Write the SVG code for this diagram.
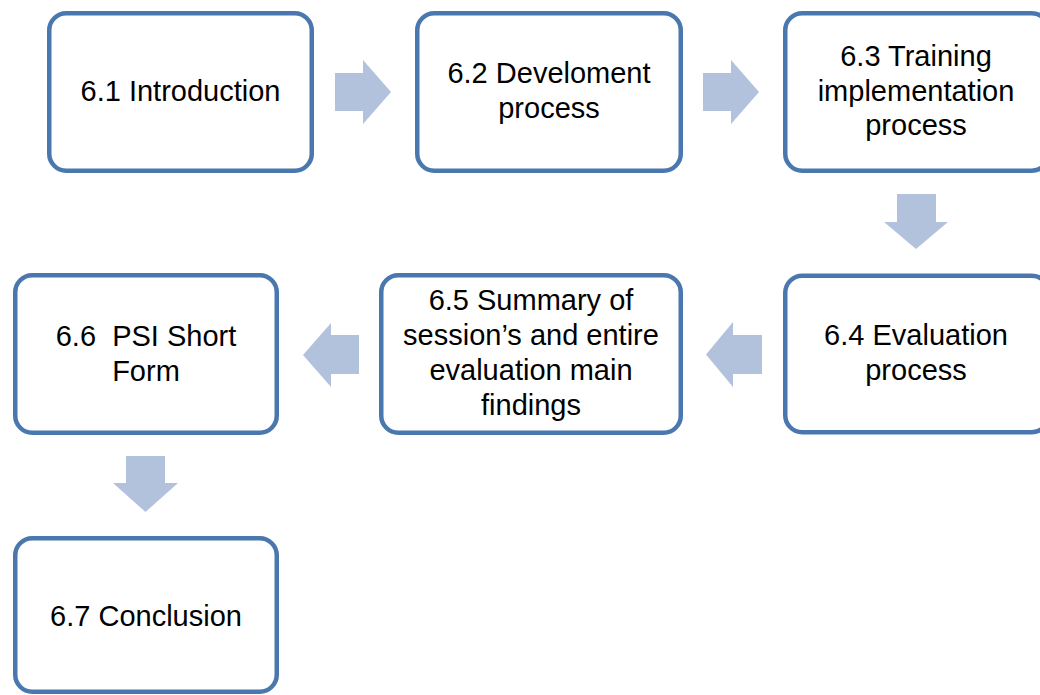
<svg xmlns="http://www.w3.org/2000/svg" width="1040" height="695" viewBox="0 0 1040 695">
<style>
.box{fill:#ffffff;stroke:#4a77ae;stroke-width:4.5}
.arr{fill:#b2c2dd}
text{font-family:"Liberation Sans",Arial,sans-serif;font-size:29px;fill:#000000;text-anchor:middle}
</style>
<rect width="1040" height="695" fill="#ffffff"/>
<g id="connectors">
<polygon class="arr" points="335,73 363,73 363,60 391,92 363,124 363,111 335,111"/>
<polygon class="arr" points="703,73 731,73 731,60 759,92 731,124 731,111 703,111"/>
<polygon class="arr" points="897,194 936,194 936,222 948,222 916,249 884,222 897,222"/>
<polygon class="arr" points="762,335 733,335 733,322 706,354.5 733,387 733,374 762,374"/>
<polygon class="arr" points="359,335 331,335 331,323 303,355 331,387 331,374 359,374"/>
<polygon class="arr" points="126,456 165,456 165,483 178,483 145.5,512 113,483 126,483"/>
</g>
<g id="n61">
<rect class="box" x="49.25" y="13.25" width="262.5" height="157.5" rx="17"/>
<text x="180.5" y="101">6.1 Introduction</text>
</g>
<g id="n62">
<rect class="box" x="417.25" y="13.25" width="263.5" height="157.5" rx="17"/>
<text x="549" y="83">6.2 Develoment</text>
<text x="549" y="118">process</text>
</g>
<g id="n63">
<rect class="box" x="785.25" y="13.25" width="263.5" height="157.5" rx="17"/>
<text x="916" y="66">6.3 Training</text>
<text x="916" y="100.5">implementation</text>
<text x="916" y="135">process</text>
</g>
<g id="n64">
<rect class="box" x="785.25" y="275.75" width="263.5" height="156.5" rx="17"/>
<text x="916" y="345">6.4 Evaluation</text>
<text x="916" y="380">process</text>
</g>
<g id="n65">
<rect class="box" x="381.25" y="275.25" width="299.5" height="157.5" rx="17"/>
<text x="531" y="310">6.5 Summary of</text>
<text x="531" y="345">session’s and entire</text>
<text x="531" y="380">evaluation main</text>
<text x="531" y="415">findings</text>
</g>
<g id="n66">
<rect class="box" x="15.25" y="275.25" width="261.5" height="157.5" rx="17"/>
<text x="146" y="346" xml:space="preserve">6.6  PSI Short</text>
<text x="146" y="381">Form</text>
</g>
<g id="n67">
<rect class="box" x="15.25" y="538.25" width="261.5" height="153.5" rx="17"/>
<text x="146" y="626">6.7 Conclusion</text>
</g>
</svg>
